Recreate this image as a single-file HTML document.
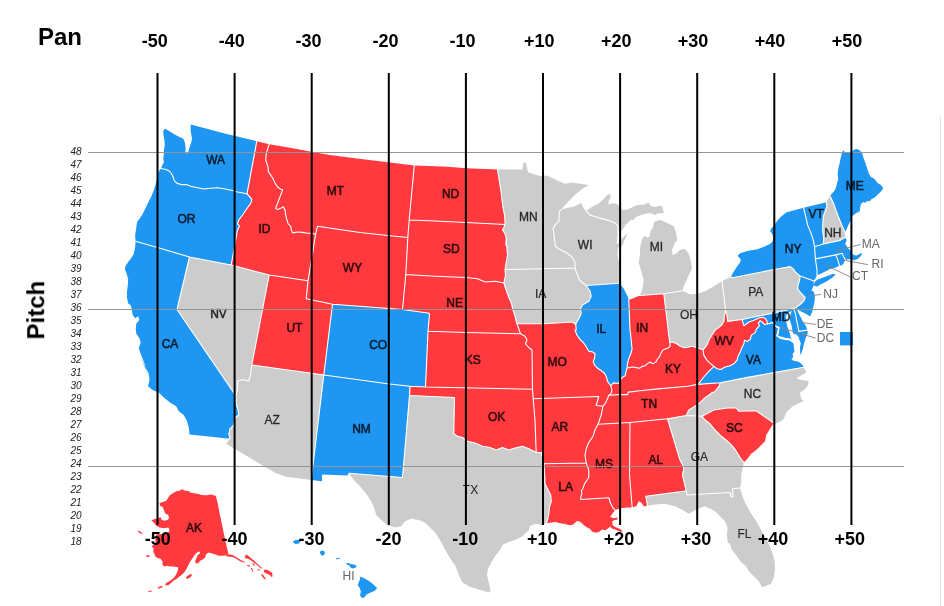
<!DOCTYPE html>
<html><head><meta charset="utf-8"><title>Pan / Pitch map</title>
<style>
html,body{margin:0;padding:0;background:#fff;}
body{width:944px;height:606px;position:relative;overflow:hidden;font-family:"Liberation Sans",sans-serif;}
svg{position:absolute;left:0;top:0;}
text{font-family:"Liberation Sans",sans-serif;}
.hd{font-weight:bold;font-size:24px;fill:#000;}
.tk{font-weight:bold;font-size:18px;fill:#000;text-anchor:middle;}
.pn{font-style:italic;font-size:10px;fill:#222;text-anchor:middle;}
.st{font-size:12px;fill:#000;stroke:#000;stroke-width:.55px;stroke-linejoin:round;opacity:.82;text-anchor:middle;}
.so{font-size:12px;fill:#666;text-anchor:middle;}
</style></head><body>
<svg width="944" height="606" viewBox="0 0 944 606" style="will-change:transform">
<defs><filter id="na" x="-5%" y="-5%" width="110%" height="110%"><feOffset dx="0" dy="0"/></filter></defs>
<rect width="944" height="606" fill="#fff"/>
<rect x="940" y="116" width="1" height="490" fill="#e2e2e2"/>
<g stroke="none">
<path fill="#1e96f2" d="M160.8,168.5 161.9,166.4 162.5,164.5 164.0,162.4 163.2,158.9 163.8,155.1 164.0,150.1 164.8,145.1 164.4,140.1 163.5,135.1 163.2,131.3 164.8,128.5 166.9,129.8 170.7,131.9 175.1,134.8 179.5,136.9 182.6,138.2 184.0,140.1 185.1,143.8 185.7,148.2 185.2,152.9 188.0,153.4 188.9,149.5 190.1,145.7 191.4,142.0 192.0,138.2 191.1,133.8 190.5,128.8 190.8,124.5 223.8,133.2 256.8,141.2 247.0,193.8 237.5,192.0 231.5,190.2 225.2,189.0 217.7,187.7 210.2,188.3 203.9,189.0 197.7,187.7 191.4,186.5 186.4,184.6 181.3,184.6 177.0,183.3 174.4,180.8 173.2,177.1 171.3,173.3 168.8,170.8 165.1,169.2Z"/>
<path fill="#1e96f2" d="M135.5,241.2 135.1,235.2 136.3,227.7 137.1,222.1 142.0,215.2 145.1,208.9 148.2,202.6 151.4,196.3 153.9,190.1 155.8,183.8 157.4,177.5 158.4,171.9 160.8,168.5 165.1,169.2 168.8,170.8 171.3,173.3 173.2,177.1 174.4,180.8 177.0,183.3 181.3,184.6 186.4,184.6 191.4,186.5 197.7,187.7 203.9,189.0 210.2,188.3 217.7,187.7 225.2,189.0 231.5,190.2 237.5,192.0 247.0,193.8 249.4,196.4 251.9,199.6 250.7,203.3 247.5,207.7 242.5,215.0 238.8,220.0 237.5,223.8 239.5,226.2 237.5,230.0 237.0,232.5 231.2,265.0 189.5,257.0 157.5,247.5Z"/>
<path fill="#1e96f2" d="M135.5,241.2 135.1,247.5 133.8,253.8 131.1,258.2 128.2,262.0 125.3,266.4 125.0,269.5 126.5,273.2 128.2,278.9 127.8,285.2 127.0,291.4 126.9,297.7 128.5,304.0 130.7,305.0 131.9,310.0 132.6,315.0 135.1,318.2 138.2,316.3 139.4,320.1 136.3,323.8 135.7,328.8 136.3,333.8 139.4,338.2 140.7,342.6 138.8,348.3 140.7,353.9 143.2,360.2 145.7,367.1 147.0,372.7 148.9,376.5 141.2,358.8 145.0,366.2 148.8,373.8 149.5,380.0 148.0,386.2 152.5,390.0 158.8,392.5 163.8,397.5 170.0,402.5 176.2,406.2 178.8,411.2 183.8,415.0 187.0,421.2 188.8,427.5 189.5,434.5 230.0,438.8 228.8,433.8 230.0,428.8 233.8,425.0 235.0,417.5 238.8,415.0 238.0,410.0 236.2,403.8 235.8,395.8 177.0,309.5 189.5,257.0 157.5,247.5Z"/>
<path fill="#cccccc" d="M189.5,257.0 231.2,265.0 269.2,275.0 251.8,365.0 250.5,375.0 248.8,381.2 242.5,379.5 237.5,381.2 237.5,390.0 235.8,395.8 177.0,309.5Z"/>
<path fill="#ff393e" d="M256.8,141.2 269.2,144.2 267.6,148.8 266.3,153.8 265.7,160.1 267.0,163.8 268.2,167.6 268.2,171.4 270.7,175.1 273.2,178.9 275.1,183.3 277.6,187.0 280.8,189.2 282.6,189.6 281.4,193.3 279.9,197.1 278.2,201.5 277.0,204.6 275.7,208.3 277.6,209.4 280.7,208.2 283.2,206.9 285.1,210.1 285.7,215.1 287.0,220.1 288.2,223.9 290.7,226.4 291.4,230.1 292.6,232.9 297.6,232.0 302.6,232.4 307.7,233.3 312.7,233.3 315.6,234.5 308.0,280.8 269.2,275.0 231.2,265.0 237.0,232.5 237.5,230.0 239.5,226.2 237.5,223.8 238.8,220.0 242.5,215.0 247.5,207.7 250.7,203.3 251.9,199.6 249.4,196.4 247.0,193.8Z"/>
<path fill="#ff393e" d="M269.2,144.2 290.0,147.8 310.0,151.4 330.0,155.1 355.0,158.2 388.0,162.3 414.3,165.4 409.2,220.0 407.8,237.5 387.5,235.5 360.0,232.5 317.5,226.2 315.6,234.5 312.7,233.3 307.7,233.3 302.6,232.4 297.6,232.0 292.6,232.9 291.4,230.1 290.7,226.4 288.2,223.9 287.0,220.1 285.7,215.1 285.1,210.1 283.2,206.9 280.7,208.2 277.6,209.4 275.7,208.3 277.0,204.6 278.2,201.5 279.9,197.1 281.4,193.3 282.6,189.6 280.8,189.2 277.6,187.0 275.1,183.3 273.2,178.9 270.7,175.1 268.2,171.4 268.2,167.6 267.0,163.8 265.7,160.1 266.3,153.8 267.6,148.8Z"/>
<path fill="#ff393e" d="M315.6,234.5 317.5,226.2 360.0,232.5 387.5,235.5 407.8,237.5 405.8,274.5 402.5,309.5 332.5,304.2 306.2,298.8 308.0,280.8Z"/>
<path fill="#ff393e" d="M269.2,275.0 308.0,280.8 306.2,298.8 332.5,304.2 323.8,375.0 251.8,365.0Z"/>
<path fill="#cccccc" d="M251.8,365.0 323.8,375.0 311.2,480.0 285.0,476.5 275.0,472.8 226.2,443.8 230.0,438.8 228.8,433.8 230.0,428.8 233.8,425.0 235.0,417.5 238.8,415.0 238.0,410.0 236.2,403.8 235.8,395.8 237.5,390.0 237.5,381.2 242.5,379.5 248.8,381.2 250.5,375.0Z"/>
<path fill="#1e96f2" d="M332.5,304.2 402.5,309.5 429.5,313.2 428.0,331.2 425.5,387.0 410.0,386.2 387.5,383.8 323.8,375.0Z"/>
<path fill="#1e96f2" d="M323.8,375.0 387.5,383.8 410.0,386.2 409.5,395.5 402.5,477.5 348.8,473.2 347.5,475.5 322.0,474.5 322.0,481.2 311.2,480.0Z"/>
<path fill="#ff393e" d="M182.1,489.0 183.9,490.6 188.9,491.3 191.5,493.1 196.5,493.5 201.5,495.0 206.5,495.3 211.5,494.4 215.9,496.0 217.8,503.8 219.7,513.8 221.6,522.6 223.4,531.4 225.3,540.2 227.2,549.0 228.4,553.8 224.1,555.7 219.0,555.7 215.3,554.5 211.5,553.2 208.4,552.6 205.9,554.5 205.2,557.6 202.7,559.5 200.2,560.7 198.3,563.2 195.8,563.6 195.2,560.7 196.5,558.2 197.7,555.1 200.2,553.2 199.6,551.6 197.1,552.3 194.6,555.1 192.1,558.8 189.6,562.6 187.7,566.4 186.4,568.9 184.6,572.0 182.1,574.5 178.9,577.0 176.4,578.9 173.3,580.8 170.8,583.3 168.3,585.2 165.1,585.2 165.8,583.3 168.9,581.4 172.0,579.5 174.5,577.0 176.4,573.9 177.7,570.8 178.3,567.6 176.4,567.0 173.3,566.4 170.1,566.6 167.0,565.7 163.9,566.4 162.4,564.5 162.6,561.4 160.7,558.8 158.2,558.2 155.7,557.0 154.5,554.5 153.2,551.3 153.8,548.8 152.0,546.9 152.6,545.0 154.5,545.2 155.7,541.4 155.1,537.7 156.3,534.5 161.4,534.1 166.4,533.3 168.9,532.0 169.5,529.5 168.3,527.6 163.9,528.3 159.5,527.6 156.3,525.8 155.1,523.9 153.2,522.0 151.3,520.4 154.5,518.9 158.2,518.2 160.7,517.0 161.4,519.5 163.9,520.7 167.6,520.1 169.1,517.9 168.3,515.1 165.1,513.2 163.9,510.1 162.6,506.9 160.1,505.7 159.5,503.2 162.6,501.9 166.4,500.7 168.3,497.5 170.1,495.0 173.3,493.1 176.4,491.3 180.2,490.6Z M227.6,554.1 232.4,554.9 234.3,556.0 237.3,557.8 240.2,559.7 243.2,561.2 245.4,561.9 244.7,562.6 241.7,561.9 238.8,560.4 235.8,558.6 233.6,557.5 231.7,556.7 229.1,556.7 225.4,556.0Z M246.2,554.5 248.0,555.6 251.4,558.6 254.3,560.8 257.3,563.8 260.3,566.4 262.5,568.6 261.0,568.6 258.1,566.0 255.1,563.4 252.1,561.2 249.2,559.3 246.9,558.6 245.1,558.2 244.7,556.3Z M263.6,569.7 267.0,569.7 269.9,571.2 272.2,572.7 272.5,576.4 271.4,577.1 269.9,574.9 267.0,573.8 264.0,572.3Z M246.9,564.9 249.9,565.2 249.9,566.4 247.3,566.1Z M252.1,563.0 254.0,563.4 255.1,565.6 253.6,565.4Z M250.6,567.8 252.1,568.2 253.6,571.9 252.5,571.5Z M257.3,569.3 260.3,569.5 259.9,570.6 257.5,570.3Z M261.0,573.8 263.3,574.9 266.2,579.4 264.4,579.0 262.1,576.4Z M185.8,577.6 187.7,575.8 190.8,573.9 192.1,575.1 190.2,577.6 187.1,578.9Z M157.0,587.9 159.5,586.4 162.6,585.8 162.4,587.2 158.9,588.4Z M147.6,591.7 150.1,590.7 152.0,590.4 151.6,591.4 148.6,592.3Z M145.7,555.7 148.2,555.3 150.1,556.1 148.8,557.0 146.3,556.7Z M137.5,530.8 139.4,531.1 142.6,533.6 141.6,534.1 138.8,532.4Z"/>
<path fill="#1e96f2" d=" M293.1,541.3 295.7,540.0 299.4,539.8 300.7,541.3 298.8,543.5 295.7,544.0 293.5,542.8Z M320.1,551.6 322.6,550.3 324.9,551.9 324.5,554.8 322.0,555.7 320.1,553.8Z M335.8,558.2 339.6,557.8 339.9,558.8 336.4,559.2Z M345.8,562.9 348.3,562.9 350.8,564.1 354.0,564.5 356.5,565.7 355.9,567.6 352.7,568.6 350.4,567.6 349.6,565.7 347.1,564.5Z M359.6,576.4 362.7,577.6 366.5,579.5 371.5,582.7 374.7,585.8 377.2,588.3 374.7,590.8 370.3,592.7 366.5,594.6 364.0,597.7 361.5,597.7 360.0,595.2 360.9,591.4 359.6,587.7 357.7,585.2 359.0,581.4 360.2,578.9Z"/>
<path fill="#ff393e" d="M414.3,165.4 448.0,166.7 466.0,168.2 497.5,169.5 498.8,177.5 500.0,185.0 501.2,192.5 502.0,200.0 503.0,207.5 504.5,215.0 505.0,221.2 505.0,224.5 466.2,222.5 435.0,221.0 409.2,220.0Z"/>
<path fill="#ff393e" d="M409.2,220.0 435.0,221.0 466.2,222.5 505.0,224.5 503.8,227.5 502.5,230.0 505.0,233.8 506.2,237.5 505.8,245.0 506.2,240.0 507.5,255.0 505.0,269.5 505.5,275.0 504.5,280.0 503.8,283.0 495.0,281.2 485.0,282.0 477.5,278.8 466.2,277.5 435.0,276.2 405.8,274.5 407.8,237.5Z"/>
<path fill="#ff393e" d="M405.8,274.5 435.0,276.2 466.2,277.5 477.5,278.8 485.0,282.0 495.0,281.2 503.8,283.0 506.2,290.0 508.8,297.5 511.2,302.5 513.0,310.0 515.0,316.2 516.2,321.2 517.0,323.8 518.8,328.8 520.5,333.8 466.2,332.5 428.0,331.2 429.5,313.2 402.5,309.5Z"/>
<path fill="#ff393e" d="M428.0,331.2 466.2,332.5 520.5,333.8 525.0,336.2 527.0,340.0 525.5,343.8 528.8,347.5 532.0,350.0 532.5,389.2 425.5,387.0Z"/>
<path fill="#ff393e" d="M410.0,386.2 425.5,387.0 532.5,389.2 533.2,398.8 535.0,420.0 536.2,452.5 533.8,451.2 528.8,448.8 522.5,446.2 515.0,448.0 508.8,450.0 502.5,447.5 496.2,450.0 490.0,447.5 482.5,446.2 475.0,443.0 467.5,441.2 462.5,437.5 457.5,436.2 453.8,433.8 454.5,397.5 409.5,395.5Z"/>
<path fill="#cccccc" d="M409.5,395.5 454.5,397.5 453.8,433.8 457.5,436.2 462.5,437.5 467.5,441.2 475.0,443.0 482.5,446.2 490.0,447.5 496.2,450.0 502.5,447.5 508.8,450.0 515.0,448.0 522.5,446.2 528.8,448.8 533.8,451.2 536.2,452.5 541.2,452.5 544.0,463.8 544.8,477.5 545.0,483.8 547.5,488.8 550.7,495.1 551.3,501.4 549.4,507.6 548.8,513.9 547.5,520.2 546.3,522.9 542.5,525.0 535.0,523.8 530.0,526.2 528.8,530.0 522.5,536.2 515.0,540.0 507.5,542.5 502.5,545.0 500.0,550.0 495.0,556.2 491.2,562.5 488.0,568.8 487.0,575.0 488.8,582.5 490.5,590.0 489.5,592.5 485.0,591.2 476.2,588.8 468.8,586.2 462.5,582.5 460.0,577.5 457.5,571.2 455.0,565.0 451.2,560.0 447.5,553.8 443.8,547.5 440.0,540.0 435.0,532.5 430.0,527.5 425.0,522.5 418.8,520.0 411.2,518.8 405.0,521.2 401.2,526.2 395.0,527.5 387.5,525.0 381.2,520.0 376.2,515.0 374.5,508.8 371.2,501.2 366.2,493.8 360.0,486.2 353.8,480.0 348.8,473.2 402.5,477.5Z"/>
<path fill="#cccccc" d="M497.5,169.5 522.5,169.5 523.2,163.0 526.0,162.5 527.5,170.5 528.5,172.5 535.0,174.5 541.2,176.2 547.5,175.5 551.2,177.5 558.8,181.2 565.0,183.8 572.5,182.5 580.0,183.8 588.8,185.0 582.5,188.8 576.2,193.8 571.2,198.8 566.2,203.8 561.2,209.5 559.5,211.2 559.0,217.5 558.8,221.2 555.0,225.0 553.0,228.8 553.8,232.5 554.5,240.0 555.5,246.2 558.8,248.8 566.2,252.5 572.5,257.5 575.0,262.5 575.0,268.0 505.0,269.5 507.5,255.0 506.2,240.0 505.8,245.0 506.2,237.5 505.0,233.8 502.5,230.0 503.8,227.5 505.0,224.5 505.0,221.2 504.5,215.0 503.0,207.5 502.0,200.0 501.2,192.5 500.0,185.0 498.8,177.5Z"/>
<path fill="#cccccc" d="M505.0,269.5 575.0,268.0 577.0,273.8 579.5,280.0 583.8,283.8 586.2,285.5 590.0,291.2 591.2,296.2 588.8,301.2 582.5,305.0 580.5,308.8 581.2,313.8 578.8,318.8 576.2,323.0 575.8,324.5 572.5,322.0 543.8,323.8 517.0,323.8 516.2,321.2 515.0,316.2 513.0,310.0 511.2,302.5 508.8,297.5 506.2,290.0 503.8,283.0 504.5,280.0 505.5,275.0Z"/>
<path fill="#ff393e" d="M517.0,323.8 543.8,323.8 572.5,322.0 575.8,324.5 576.2,330.0 575.0,330.0 576.9,335.0 580.0,339.4 583.8,343.2 586.3,346.9 588.8,351.3 592.6,351.9 595.1,353.8 594.5,358.2 593.2,361.4 594.5,365.1 597.6,368.2 601.4,370.8 604.5,373.3 606.4,377.0 607.6,381.4 610.8,385.8 612.0,390.2 610.8,393.9 608.9,395.2 607.5,398.8 605.0,403.8 603.0,406.2 596.2,405.5 598.8,396.5 533.2,398.8 532.5,389.2 532.0,350.0 528.8,347.5 525.5,343.8 527.0,340.0 525.0,336.2 520.5,333.8 518.8,328.8Z"/>
<path fill="#ff393e" d="M533.2,398.8 598.8,396.5 596.2,405.5 603.0,406.2 601.2,415.0 599.5,420.0 598.0,424.2 595.0,430.0 593.0,436.2 588.8,442.5 586.2,448.8 585.0,455.0 586.2,463.0 544.0,463.8 541.2,452.5 536.2,452.5 535.0,420.0Z"/>
<path fill="#ff393e" d="M544.0,463.8 586.2,463.0 588.8,470.0 588.8,477.5 584.5,483.8 583.3,487.6 581.4,490.7 582.0,493.8 580.8,497.0 580.8,499.5 609.0,497.8 610.2,502.6 612.7,507.6 615.2,510.1 612.1,513.9 610.2,517.0 614.0,518.3 617.1,517.6 617.7,519.5 614.0,520.2 612.1,521.4 612.7,525.2 615.2,527.0 620.2,528.9 622.8,531.4 620.2,531.7 615.2,529.6 611.5,528.3 610.2,526.4 608.3,528.3 605.2,530.2 602.1,529.6 598.9,532.1 595.2,532.7 592.0,531.4 590.2,528.9 587.6,527.7 583.9,525.2 582.0,523.3 578.2,520.8 575.7,522.0 573.2,524.5 569.5,525.2 565.1,523.9 560.1,523.3 555.0,522.0 550.0,522.7 546.3,522.9 547.5,520.2 548.8,513.9 549.4,507.6 551.3,501.4 550.7,495.1 547.5,488.8 545.0,483.8 544.8,477.5Z"/>
<path fill="#cccccc" d="M561.2,209.5 567.5,208.0 575.0,206.2 581.2,203.0 583.8,208.8 586.2,211.2 590.1,215.1 596.3,217.0 602.6,218.9 608.9,220.4 613.9,222.4 617.0,224.5 618.3,227.7 617.5,229.5 617.6,233.9 617.0,238.9 616.6,243.3 618.3,244.0 620.2,240.2 623.9,236.4 627.0,233.3 626.4,236.4 624.5,240.2 622.7,245.2 618.0,247.5 617.5,255.0 619.5,265.0 618.8,275.0 619.5,283.2 586.2,285.5 583.8,283.8 579.5,280.0 577.0,273.8 575.0,268.0 575.0,262.5 572.5,257.5 566.2,252.5 558.8,248.8 555.5,246.2 554.5,240.0 553.8,232.5 553.0,228.8 555.0,225.0 558.8,221.2 559.0,217.5 559.5,211.2Z"/>
<path fill="#1e96f2" d="M586.2,285.5 619.5,283.2 623.8,288.8 627.5,296.2 628.8,300.0 630.0,330.0 630.8,336.3 631.4,342.5 632.1,348.8 630.8,353.8 628.9,358.2 627.7,362.6 627.0,368.2 625.8,372.6 625.2,375.8 622.0,377.6 618.3,383.5 613.3,382.9 610.8,385.8 607.6,381.4 606.4,377.0 604.5,373.3 601.4,370.8 597.6,368.2 594.5,365.1 593.2,361.4 594.5,358.2 595.1,353.8 592.6,351.9 588.8,351.3 586.3,346.9 583.8,343.2 580.0,339.4 576.9,335.0 575.0,330.0 576.2,330.0 575.8,324.5 576.2,323.0 578.8,318.8 581.2,313.8 580.5,308.8 582.5,305.0 588.8,301.2 591.2,296.2 590.0,291.2Z"/>
<path fill="#ff393e" d="M598.0,424.2 630.0,422.5 629.5,475.0 632.2,507.4 627.8,507.6 620.2,508.2 615.2,510.1 612.7,507.6 610.2,502.6 609.0,497.8 580.8,499.5 580.8,497.0 582.0,493.8 581.4,490.7 583.3,487.6 584.5,483.8 588.8,477.5 588.8,470.0 586.2,463.0 585.0,455.0 586.2,448.8 588.8,442.5 593.0,436.2 595.0,430.0Z"/>
<path fill="#ff393e" d="M630.0,422.5 667.5,418.8 680.0,460.0 683.8,467.5 682.5,475.0 686.2,490.8 683.8,491.2 645.8,496.2 647.5,505.8 643.8,506.2 641.2,502.5 638.8,501.2 636.2,506.2 632.2,507.4 629.5,475.0Z"/>
<path fill="#ff393e" d="M610.8,385.8 613.3,382.9 618.3,383.5 622.0,377.6 625.2,375.8 625.8,372.6 627.0,368.2 628.9,367.6 632.7,367.0 636.5,367.6 639.6,368.2 642.1,366.4 645.2,365.7 647.1,363.9 650.2,362.0 652.8,363.9 655.9,362.0 657.1,359.5 659.7,356.3 660.9,353.2 662.8,350.1 665.9,348.8 669.1,347.6 670.3,345.1 669.7,342.5 672.8,341.9 676.6,343.8 680.3,346.3 684.1,347.6 686.2,347.5 692.5,346.2 697.5,348.0 703.1,349.7 703.8,355.1 706.9,360.1 710.7,363.8 714.0,366.4 708.8,371.4 703.8,377.0 700.0,382.0 697.3,384.4 688.0,386.2 657.8,388.9 640.2,390.8 628.3,392.1 627.7,394.6 618.9,394.6 608.9,395.2 610.8,393.9 612.0,390.2Z"/>
<path fill="#ff393e" d="M628.8,300.0 640.0,295.5 663.8,293.8 669.7,342.5 670.3,345.1 669.1,347.6 665.9,348.8 662.8,350.1 660.9,353.2 659.7,356.3 657.1,359.5 655.9,362.0 652.8,363.9 650.2,362.0 647.1,363.9 645.2,365.7 642.1,366.4 639.6,368.2 636.5,367.6 632.7,367.0 628.9,367.6 627.0,368.2 627.7,362.6 628.9,358.2 630.8,353.8 632.1,348.8 631.4,342.5 630.8,336.3 630.0,330.0Z"/>
<path fill="#cccccc" d="M586.2,211.2 588.8,208.9 593.2,206.3 598.2,203.8 602.6,200.1 606.4,195.7 610.1,193.6 610.8,196.9 608.9,200.7 608.2,204.5 611.4,203.2 615.8,203.6 619.5,206.3 622.7,209.9 627.7,209.5 632.7,207.0 637.7,205.1 644.0,204.5 649.0,202.6 650.2,205.7 655.3,207.0 659.0,205.7 662.2,206.3 663.4,210.7 664.0,212.6 661.5,213.2 657.8,213.2 655.3,215.1 652.8,213.9 650.2,213.2 646.5,213.6 642.7,214.5 639.0,215.8 635.2,217.6 634.0,220.1 631.4,219.5 628.9,222.0 625.8,224.5 623.9,227.7 622.0,230.2 617.5,229.5 618.3,227.7 617.0,224.5 613.9,222.4 608.9,220.4 602.6,218.9 596.3,217.0 590.1,215.1Z M640.0,295.5 663.8,293.8 682.5,290.8 683.8,286.2 686.2,281.2 688.8,275.0 692.0,268.8 691.2,262.5 688.8,253.8 685.0,248.8 680.0,250.0 676.2,253.8 672.5,255.0 672.0,250.0 675.0,242.5 677.2,240.2 676.6,235.2 675.3,230.2 674.1,226.4 670.3,224.5 665.3,222.0 660.3,219.9 657.8,220.4 654.0,222.0 653.4,225.2 652.8,228.3 650.9,230.2 650.2,233.3 649.6,236.4 646.5,237.7 645.2,235.8 642.7,237.7 641.5,241.5 640.2,246.5 640.0,253.8 638.8,262.5 641.2,271.2 643.8,280.0 642.5,288.8Z"/>
<path fill="#cccccc" d="M663.8,293.8 682.5,290.8 690.0,294.5 697.5,293.8 705.0,291.2 713.8,286.2 722.0,281.2 725.7,310.7 724.5,315.1 723.9,321.4 722.0,324.5 718.8,327.6 715.1,330.1 713.2,333.3 710.7,337.0 708.8,340.2 707.5,343.9 705.0,347.7 703.1,349.7 697.5,348.0 692.5,346.2 686.2,347.5 684.1,347.6 680.3,346.3 676.6,343.8 672.8,341.9 669.7,342.5Z"/>
<path fill="#ff393e" d="M725.7,310.7 727.0,315.1 727.6,321.4 742.0,319.5 743.9,325.7 748.9,322.0 754.0,320.3 758.3,318.2 762.1,317.3 765.2,318.2 767.1,321.4 767.5,323.9 764.6,324.5 762.1,322.0 760.2,320.7 758.3,323.2 759.6,325.7 756.5,328.9 755.2,332.6 751.4,335.1 750.2,339.5 747.7,341.4 744.5,340.2 743.9,343.8 742.0,347.5 740.2,351.9 738.3,355.7 737.0,360.1 734.5,363.2 730.1,365.7 725.1,367.0 720.7,369.5 717.0,368.8 714.0,366.4 710.7,363.8 706.9,360.1 703.8,355.1 703.1,349.7 705.0,347.7 707.5,343.9 708.8,340.2 710.7,337.0 713.2,333.3 715.1,330.1 718.8,327.6 722.0,324.5 723.9,321.4 724.5,315.1Z"/>
<path fill="#1e96f2" d="M714.0,366.4 717.0,368.8 720.7,369.5 725.1,367.0 730.1,365.7 734.5,363.2 737.0,360.1 738.3,355.7 740.2,351.9 742.0,347.5 743.9,343.8 744.5,340.2 747.7,341.4 750.2,339.5 751.4,335.1 755.2,332.6 756.5,328.9 759.6,325.7 758.3,323.2 760.2,320.7 762.1,322.0 764.6,324.5 767.5,323.9 772.6,322.6 775.7,326.3 778.8,327.6 778.2,332.0 777.0,335.7 780.1,337.6 785.1,338.9 790.1,339.5 793.3,342.0 793.9,347.6 794.5,351.4 792.6,353.9 793.3,357.1 791.4,358.9 793.3,360.8 797.6,361.4 800.2,362.7 802.7,365.2 803.7,367.2 774.0,372.6 746.4,377.6 720.1,382.7 697.3,384.4 700.0,382.0 703.8,377.0 708.8,371.4Z M799.5,340.1 805.2,340.1 803.9,343.9 803.3,347.6 802.0,351.4 800.8,355.2 800.2,352.7 799.9,347.6 800.8,343.3Z"/>
<path fill="#cccccc" d="M720.1,382.7 746.4,377.6 774.0,372.6 803.7,367.2 806.2,372.5 800.0,376.2 796.2,378.8 802.5,380.0 808.8,381.2 807.5,386.2 803.8,390.0 800.0,392.5 801.2,398.8 803.8,401.2 797.5,403.8 791.2,407.5 786.2,412.5 783.8,418.8 781.2,421.2 775.0,423.8 773.8,423.0 756.2,410.8 738.8,411.2 736.2,408.0 727.5,408.0 713.8,410.0 702.0,416.2 686.2,415.5 688.8,410.0 692.5,407.7 696.3,405.2 700.0,402.7 702.5,400.2 705.7,397.1 708.8,395.2 711.9,392.7 715.1,391.4 717.0,388.9 719.5,385.8Z"/>
<path fill="#ff393e" d="M608.9,395.2 618.9,394.6 627.7,394.6 628.3,392.1 640.2,390.8 657.8,388.9 688.0,386.2 697.3,384.4 720.1,382.7 719.5,385.8 717.0,388.9 715.1,391.4 711.9,392.7 708.8,395.2 705.7,397.1 702.5,400.2 700.0,402.7 696.3,405.2 692.5,407.7 688.8,410.0 686.2,415.5 667.5,418.8 630.0,422.5 598.0,424.2 599.5,420.0 601.2,415.0 603.0,406.2 605.0,403.8 607.5,398.8Z"/>
<path fill="#ff393e" d="M702.0,416.2 713.8,410.0 727.5,408.0 736.2,408.0 738.8,411.2 756.2,410.8 773.8,423.0 770.0,428.8 766.2,435.0 765.0,441.2 760.0,446.2 756.2,450.0 751.2,453.8 747.5,458.8 743.8,462.5 740.0,457.5 736.2,451.2 732.5,446.2 727.5,441.2 721.2,436.2 715.0,430.0 710.0,423.8 705.0,420.0Z"/>
<path fill="#cccccc" d="M667.5,418.8 686.2,415.5 702.0,416.2 705.0,420.0 710.0,423.8 715.0,430.0 721.2,436.2 727.5,441.2 732.5,446.2 736.2,451.2 740.0,457.5 743.8,462.5 742.5,468.8 741.2,475.0 741.2,482.5 740.0,488.0 732.5,488.8 733.0,496.2 731.2,497.0 730.0,492.5 687.0,495.0 686.2,490.8 682.5,475.0 683.8,467.5 680.0,460.0Z"/>
<path fill="#cccccc" d="M647.5,505.8 645.8,496.2 683.8,491.2 686.2,490.8 687.0,495.0 730.0,492.5 731.2,497.0 733.0,496.2 732.5,488.8 740.0,488.0 742.5,496.2 746.2,505.0 751.2,513.8 757.0,522.5 762.5,532.5 767.5,541.2 771.2,550.0 774.5,560.0 775.0,568.8 773.8,577.5 771.2,583.8 765.0,586.2 762.0,587.0 758.8,581.2 752.5,575.0 748.8,571.2 746.2,566.2 741.2,562.5 738.8,558.8 735.0,553.8 731.2,548.8 730.0,543.8 727.5,542.5 727.0,535.0 727.5,527.5 725.0,521.2 720.0,516.2 715.0,511.2 705.0,506.2 697.5,508.8 688.8,513.8 682.5,510.0 675.0,506.2 665.0,503.8 655.0,504.5Z"/>
<path fill="#cccccc" d="M722.0,281.2 726.3,278.9 730.7,276.7 732.6,277.7 774.0,269.5 790.3,266.6 793.4,268.9 795.3,272.0 799.1,275.2 800.2,276.1 799.5,280.8 798.2,284.6 797.6,288.3 799.5,291.5 802.6,294.6 805.1,297.7 803.9,300.9 800.7,304.0 796.3,307.2 793.3,308.8 770.2,313.6 742.0,319.5 727.6,321.4 727.0,315.1 725.7,310.7Z"/>
<path fill="#1e96f2" d="M730.7,276.7 733.2,272.6 736.4,267.6 740.1,262.6 740.8,259.5 737.6,255.7 740.1,253.2 746.4,251.3 752.7,250.1 756.4,249.4 760.2,248.2 765.2,246.3 770.2,243.8 772.7,241.3 773.4,237.5 772.1,233.8 770.2,231.3 771.5,228.1 774.0,226.2 775.0,223.8 780.0,217.5 786.2,212.5 795.0,210.0 803.6,207.8 805.7,216.3 807.6,225.1 810.8,232.6 813.3,240.1 814.5,246.7 815.4,258.9 817.0,270.2 817.0,275.2 815.1,278.9 813.3,280.8 800.2,276.1 799.1,275.2 795.3,272.0 793.4,268.9 790.3,266.6 774.0,269.5 732.6,277.7Z M813.9,285.8 814.5,282.1 817.6,279.6 822.7,277.7 827.7,275.8 832.7,273.9 835.2,273.9 834.6,275.8 831.4,278.3 826.4,281.4 821.4,283.9 817.0,286.4Z"/>
<path fill="#1e96f2" d="M800.2,276.1 813.3,280.8 813.9,284.6 812.6,288.3 811.4,290.2 813.9,292.1 814.9,297.1 814.5,302.1 813.3,307.1 812.0,312.2 810.1,316.6 807.6,314.7 803.9,312.8 800.1,310.9 797.0,309.0 796.3,307.2 800.7,304.0 803.9,300.9 805.1,297.7 802.6,294.6 799.5,291.5 797.6,288.3 798.2,284.6 799.5,280.8Z"/>
<path fill="#1e96f2" d="M793.3,308.8 796.3,307.2 797.6,311.3 800.2,316.3 802.7,321.3 805.8,325.7 807.4,330.1 798.9,331.4 795.1,312.5Z"/>
<path fill="#1e96f2" d="M742.0,319.5 770.2,313.6 793.3,308.8 795.1,312.5 798.9,331.4 807.4,330.1 807.7,333.2 805.8,337.6 805.2,340.1 799.5,340.1 798.3,336.4 795.8,333.9 793.9,334.5 792.6,331.4 792.0,328.2 791.4,325.1 790.1,321.3 789.5,317.6 790.8,313.8 792.0,310.7 787.6,313.2 785.7,316.3 786.4,322.6 787.6,327.6 789.5,332.6 790.8,337.6 793.3,342.0 790.1,339.5 785.1,338.9 780.1,337.6 777.0,335.7 778.2,332.0 778.8,327.6 775.7,326.3 772.6,322.6 767.5,323.9 767.1,321.4 765.2,318.2 762.1,317.3 758.3,318.2 754.0,320.3 748.9,322.0 743.9,325.7Z"/>
<path fill="#1e96f2" d="M803.6,207.8 826.4,202.3 827.0,206.3 825.2,211.3 823.3,216.3 822.9,222.6 822.7,231.3 823.7,237.6 823.3,243.9 814.5,246.7 813.3,240.1 810.8,232.6 807.6,225.1 805.7,216.3Z"/>
<path fill="#cccccc" d="M826.4,202.3 829.9,195.8 833.3,202.7 836.4,211.5 840.2,221.3 844.0,230.1 845.0,232.0 845.2,237.6 843.4,238.2 840.2,240.4 823.3,243.9 823.7,237.6 822.7,231.3 822.9,222.6 823.3,216.3 825.2,211.3 827.0,206.3Z"/>
<path fill="#1e96f2" d="M829.9,195.8 833.9,191.4 835.8,188.3 837.0,183.3 838.3,178.9 837.6,173.9 838.3,168.8 839.5,163.8 840.8,157.6 842.0,152.5 843.3,150.3 845.2,152.5 848.3,152.5 851.4,151.9 854.6,149.4 857.1,149.0 860.2,150.7 862.1,153.2 863.4,157.6 865.2,162.6 867.1,168.2 869.0,173.9 870.9,177.0 873.4,178.2 875.3,180.1 877.8,183.3 880.9,185.1 883.0,187.7 882.2,190.2 880.3,192.0 877.8,194.6 875.9,196.4 873.4,198.3 871.5,198.9 869.6,201.4 867.7,200.8 865.2,202.7 863.4,202.1 860.9,203.9 860.2,207.7 859.6,211.5 857.7,214.0 859.0,211.3 855.3,213.8 852.1,216.3 850.9,220.1 848.4,225.1 846.5,229.5 845.0,232.0 844.0,230.1 840.2,221.3 836.4,211.5 833.3,202.7Z"/>
<path fill="#1e96f2" d="M814.5,246.7 823.3,243.9 840.2,240.4 843.4,238.2 845.2,237.6 846.7,240.1 845.2,243.9 847.7,247.7 850.2,250.2 851.8,253.3 853.8,254.9 856.8,255.4 859.8,253.7 862.0,252.9 861.5,255.2 858.0,258.9 854.0,260.2 850.2,258.9 847.7,259.6 845.2,259.6 843.4,256.4 842.1,253.3 835.8,254.9 815.4,258.9Z"/>
<path fill="#1e96f2" d="M835.8,254.9 842.1,253.3 843.4,256.4 845.2,259.6 844.0,262.7 842.1,265.2 839.6,265.8 837.7,259.6Z"/>
<path fill="#1e96f2" d="M815.4,258.9 835.8,254.9 837.7,259.6 839.6,265.8 835.2,267.7 830.2,269.0 825.2,271.5 820.2,274.0 817.0,275.2 817.0,270.2Z"/>
</g>
<path d="M256.8,141.2 247.0,193.8 M160.8,168.5 165.1,169.2 168.8,170.8 171.3,173.3 173.2,177.1 174.4,180.8 177.0,183.3 181.3,184.6 186.4,184.6 191.4,186.5 197.7,187.7 203.9,189.0 210.2,188.3 217.7,187.7 225.2,189.0 231.5,190.2 237.5,192.0 247.0,193.8 M247.0,193.8 249.4,196.4 251.9,199.6 250.7,203.3 247.5,207.7 242.5,215.0 238.8,220.0 237.5,223.8 239.5,226.2 237.5,230.0 237.0,232.5 231.2,265.0 M189.5,257.0 231.2,265.0 M135.5,241.2 157.5,247.5 189.5,257.0 M235.8,395.8 236.2,403.8 238.0,410.0 238.8,415.0 235.0,417.5 233.8,425.0 230.0,428.8 228.8,433.8 230.0,438.8 M189.5,257.0 177.0,309.5 235.8,395.8 M231.2,265.0 269.2,275.0 M269.2,275.0 251.8,365.0 M251.8,365.0 250.5,375.0 248.8,381.2 242.5,379.5 237.5,381.2 237.5,390.0 235.8,395.8 M269.2,144.2 267.6,148.8 266.3,153.8 265.7,160.1 267.0,163.8 268.2,167.6 268.2,171.4 270.7,175.1 273.2,178.9 275.1,183.3 277.6,187.0 280.8,189.2 282.6,189.6 281.4,193.3 279.9,197.1 278.2,201.5 277.0,204.6 275.7,208.3 277.6,209.4 280.7,208.2 283.2,206.9 285.1,210.1 285.7,215.1 287.0,220.1 288.2,223.9 290.7,226.4 291.4,230.1 292.6,232.9 297.6,232.0 302.6,232.4 307.7,233.3 312.7,233.3 315.6,234.5 M315.6,234.5 308.0,280.8 M269.2,275.0 308.0,280.8 M414.3,165.4 409.2,220.0 M409.2,220.0 407.8,237.5 M315.6,234.5 317.5,226.2 360.0,232.5 387.5,235.5 407.8,237.5 M407.8,237.5 405.8,274.5 M405.8,274.5 402.5,309.5 M332.5,304.2 402.5,309.5 M308.0,280.8 306.2,298.8 332.5,304.2 M332.5,304.2 323.8,375.0 M251.8,365.0 323.8,375.0 M323.8,375.0 311.2,480.0 M402.5,309.5 429.5,313.2 428.0,331.2 M428.0,331.2 425.5,387.0 M410.0,386.2 425.5,387.0 M323.8,375.0 387.5,383.8 410.0,386.2 M410.0,386.2 409.5,395.5 M409.5,395.5 402.5,477.5 348.8,473.2 M497.5,169.5 498.8,177.5 500.0,185.0 501.2,192.5 502.0,200.0 503.0,207.5 504.5,215.0 505.0,221.2 505.0,224.5 M409.2,220.0 435.0,221.0 466.2,222.5 505.0,224.5 M505.0,224.5 503.8,227.5 502.5,230.0 505.0,233.8 506.2,237.5 505.8,245.0 506.2,240.0 507.5,255.0 505.0,269.5 M505.0,269.5 505.5,275.0 504.5,280.0 503.8,283.0 M405.8,274.5 435.0,276.2 466.2,277.5 477.5,278.8 485.0,282.0 495.0,281.2 503.8,283.0 M503.8,283.0 506.2,290.0 508.8,297.5 511.2,302.5 513.0,310.0 515.0,316.2 516.2,321.2 517.0,323.8 M517.0,323.8 518.8,328.8 520.5,333.8 M428.0,331.2 466.2,332.5 520.5,333.8 M520.5,333.8 525.0,336.2 527.0,340.0 525.5,343.8 528.8,347.5 532.0,350.0 532.5,389.2 M425.5,387.0 532.5,389.2 M532.5,389.2 533.2,398.8 M533.2,398.8 535.0,420.0 536.2,452.5 M409.5,395.5 454.5,397.5 453.8,433.8 457.5,436.2 462.5,437.5 467.5,441.2 475.0,443.0 482.5,446.2 490.0,447.5 496.2,450.0 502.5,447.5 508.8,450.0 515.0,448.0 522.5,446.2 528.8,448.8 533.8,451.2 536.2,452.5 M536.2,452.5 541.2,452.5 544.0,463.8 M544.0,463.8 544.8,477.5 545.0,483.8 547.5,488.8 550.7,495.1 551.3,501.4 549.4,507.6 548.8,513.9 547.5,520.2 546.3,522.9 M561.2,209.5 559.5,211.2 559.0,217.5 558.8,221.2 555.0,225.0 553.0,228.8 553.8,232.5 554.5,240.0 555.5,246.2 558.8,248.8 566.2,252.5 572.5,257.5 575.0,262.5 575.0,268.0 M505.0,269.5 575.0,268.0 M575.0,268.0 577.0,273.8 579.5,280.0 583.8,283.8 586.2,285.5 M586.2,285.5 590.0,291.2 591.2,296.2 588.8,301.2 582.5,305.0 580.5,308.8 581.2,313.8 578.8,318.8 576.2,323.0 575.8,324.5 M517.0,323.8 543.8,323.8 572.5,322.0 575.8,324.5 M575.8,324.5 576.2,330.0 575.0,330.0 576.9,335.0 580.0,339.4 583.8,343.2 586.3,346.9 588.8,351.3 592.6,351.9 595.1,353.8 594.5,358.2 593.2,361.4 594.5,365.1 597.6,368.2 601.4,370.8 604.5,373.3 606.4,377.0 607.6,381.4 610.8,385.8 M610.8,385.8 612.0,390.2 610.8,393.9 608.9,395.2 M608.9,395.2 607.5,398.8 605.0,403.8 603.0,406.2 M533.2,398.8 598.8,396.5 596.2,405.5 603.0,406.2 M603.0,406.2 601.2,415.0 599.5,420.0 598.0,424.2 M598.0,424.2 595.0,430.0 593.0,436.2 588.8,442.5 586.2,448.8 585.0,455.0 586.2,463.0 M544.0,463.8 586.2,463.0 M586.2,463.0 588.8,470.0 588.8,477.5 584.5,483.8 583.3,487.6 581.4,490.7 582.0,493.8 580.8,497.0 580.8,499.5 609.0,497.8 610.2,502.6 612.7,507.6 615.2,510.1 M586.2,211.2 590.1,215.1 596.3,217.0 602.6,218.9 608.9,220.4 613.9,222.4 617.0,224.5 618.3,227.7 617.5,229.5 M586.2,285.5 619.5,283.2 M628.8,300.0 630.0,330.0 630.8,336.3 631.4,342.5 632.1,348.8 630.8,353.8 628.9,358.2 627.7,362.6 627.0,368.2 M610.8,385.8 613.3,382.9 618.3,383.5 622.0,377.6 625.2,375.8 625.8,372.6 627.0,368.2 M598.0,424.2 630.0,422.5 M630.0,422.5 629.5,475.0 632.2,507.4 M630.0,422.5 667.5,418.8 M667.5,418.8 680.0,460.0 683.8,467.5 682.5,475.0 686.2,490.8 M647.5,505.8 645.8,496.2 683.8,491.2 686.2,490.8 M627.0,368.2 628.9,367.6 632.7,367.0 636.5,367.6 639.6,368.2 642.1,366.4 645.2,365.7 647.1,363.9 650.2,362.0 652.8,363.9 655.9,362.0 657.1,359.5 659.7,356.3 660.9,353.2 662.8,350.1 665.9,348.8 669.1,347.6 670.3,345.1 669.7,342.5 M669.7,342.5 672.8,341.9 676.6,343.8 680.3,346.3 684.1,347.6 686.2,347.5 692.5,346.2 697.5,348.0 703.1,349.7 M714.0,366.4 710.7,363.8 706.9,360.1 703.8,355.1 703.1,349.7 M697.3,384.4 700.0,382.0 703.8,377.0 708.8,371.4 714.0,366.4 M608.9,395.2 618.9,394.6 627.7,394.6 628.3,392.1 640.2,390.8 657.8,388.9 688.0,386.2 697.3,384.4 M640.0,295.5 663.8,293.8 M663.8,293.8 669.7,342.5 M663.8,293.8 682.5,290.8 M722.0,281.2 725.7,310.7 M725.7,310.7 724.5,315.1 723.9,321.4 722.0,324.5 718.8,327.6 715.1,330.1 713.2,333.3 710.7,337.0 708.8,340.2 707.5,343.9 705.0,347.7 703.1,349.7 M725.7,310.7 727.0,315.1 727.6,321.4 742.0,319.5 M742.0,319.5 743.9,325.7 748.9,322.0 754.0,320.3 758.3,318.2 762.1,317.3 765.2,318.2 767.1,321.4 767.5,323.9 M714.0,366.4 717.0,368.8 720.7,369.5 725.1,367.0 730.1,365.7 734.5,363.2 737.0,360.1 738.3,355.7 740.2,351.9 742.0,347.5 743.9,343.8 744.5,340.2 747.7,341.4 750.2,339.5 751.4,335.1 755.2,332.6 756.5,328.9 759.6,325.7 758.3,323.2 760.2,320.7 762.1,322.0 764.6,324.5 767.5,323.9 M767.5,323.9 772.6,322.6 775.7,326.3 778.8,327.6 778.2,332.0 777.0,335.7 780.1,337.6 785.1,338.9 790.1,339.5 793.3,342.0 M720.1,382.7 746.4,377.6 774.0,372.6 803.7,367.2 M697.3,384.4 720.1,382.7 M702.0,416.2 713.8,410.0 727.5,408.0 736.2,408.0 738.8,411.2 756.2,410.8 773.8,423.0 M686.2,415.5 702.0,416.2 M686.2,415.5 688.8,410.0 692.5,407.7 696.3,405.2 700.0,402.7 702.5,400.2 705.7,397.1 708.8,395.2 711.9,392.7 715.1,391.4 717.0,388.9 719.5,385.8 720.1,382.7 M667.5,418.8 686.2,415.5 M702.0,416.2 705.0,420.0 710.0,423.8 715.0,430.0 721.2,436.2 727.5,441.2 732.5,446.2 736.2,451.2 740.0,457.5 743.8,462.5 M686.2,490.8 687.0,495.0 730.0,492.5 731.2,497.0 733.0,496.2 732.5,488.8 740.0,488.0 M730.7,276.7 732.6,277.7 774.0,269.5 790.3,266.6 793.4,268.9 795.3,272.0 799.1,275.2 800.2,276.1 M796.3,307.2 800.7,304.0 803.9,300.9 805.1,297.7 802.6,294.6 799.5,291.5 797.6,288.3 798.2,284.6 799.5,280.8 800.2,276.1 M793.3,308.8 796.3,307.2 M742.0,319.5 770.2,313.6 793.3,308.8 M803.6,207.8 805.7,216.3 807.6,225.1 810.8,232.6 813.3,240.1 814.5,246.7 M814.5,246.7 815.4,258.9 M815.4,258.9 817.0,270.2 817.0,275.2 M800.2,276.1 813.3,280.8 M793.3,308.8 795.1,312.5 798.9,331.4 807.4,330.1 M826.4,202.3 827.0,206.3 825.2,211.3 823.3,216.3 822.9,222.6 822.7,231.3 823.7,237.6 823.3,243.9 M814.5,246.7 823.3,243.9 M829.9,195.8 833.3,202.7 836.4,211.5 840.2,221.3 844.0,230.1 845.0,232.0 M823.3,243.9 840.2,240.4 843.4,238.2 845.2,237.6 M835.8,254.9 842.1,253.3 843.4,256.4 845.2,259.6 M815.4,258.9 835.8,254.9 M835.8,254.9 837.7,259.6 839.6,265.8" fill="none" stroke="#fff" stroke-width="1.1" stroke-linejoin="round" stroke-linecap="round"/>
<polyline fill="none" stroke="#fff" stroke-width="1.5" stroke-linecap="round" stroke-linejoin="round" points="775.7,326.3 778.8,327.6 778.2,332.0 777.0,335.7 780.1,337.6"/>
<polyline fill="none" stroke="#fff" stroke-width="2.2" stroke-linecap="round" stroke-linejoin="round" points="780.1,337.6 785.1,338.9 790.1,339.5 793.3,342.0"/>
<rect x="840" y="332" width="13" height="13.4" fill="#1e96f2"/>
<line x1="860.3" y1="244.5" x2="835.8" y2="250.8" stroke="#8a8078" stroke-width="0.9"/>
<line x1="867.8" y1="264.6" x2="842.5" y2="259.9" stroke="#8a8078" stroke-width="0.9"/>
<line x1="850.3" y1="276.8" x2="825.2" y2="265.2" stroke="#8a8078" stroke-width="0.9"/>
<line x1="820.8" y1="294.4" x2="808.9" y2="296.1" stroke="#8a8078" stroke-width="0.9"/>
<line x1="815.8" y1="324.5" x2="800.8" y2="322.3" stroke="#8a8078" stroke-width="0.9"/>
<line x1="815.8" y1="338.2" x2="780" y2="327.3" stroke="#8a8078" stroke-width="0.9"/>
<g filter="url(#na)">
<text class="st" x="215.6" y="163.8">WA</text>
<text class="st" x="186.5" y="222.5">OR</text>
<text class="st" x="264.4" y="232.5">ID</text>
<text class="st" x="335.4" y="195.0">MT</text>
<text class="st" x="450.6" y="198.0">ND</text>
<text class="st" x="451.4" y="253.0">SD</text>
<text class="st" style="stroke-width:0.35px" x="528.4" y="220.6">MN</text>
<text class="st" style="stroke-width:0.35px" x="585.2" y="249.2">WI</text>
<text class="st" style="stroke-width:0.3px" x="656.5" y="251.2">MI</text>
<text class="st" x="854.8" y="189.5">ME</text>
<text class="st" x="816.2" y="218.0">VT</text>
<text class="st" style="stroke-width:0.35px" x="832.8" y="237.0">NH</text>
<text class="st" x="793.1" y="253.0">NY</text>
<text class="st" x="170.0" y="347.5">CA</text>
<text class="st" x="218.5" y="318.2">NV</text>
<text class="st" x="294.4" y="332.0">UT</text>
<text class="st" x="352.5" y="271.8">WY</text>
<text class="st" x="454.6" y="307.0">NE</text>
<text class="st" x="378.2" y="348.8">CO</text>
<text class="st" x="472.8" y="364.2">KS</text>
<text class="st" style="stroke-width:0.2px" x="540.6" y="298.0">IA</text>
<text class="st" x="601.2" y="333.0">IL</text>
<text class="st" x="642.1" y="331.8">IN</text>
<text class="st" style="stroke-width:0.2px" x="689.0" y="319.2">OH</text>
<text class="st" x="557.2" y="366.2">MO</text>
<text class="st" x="673.0" y="372.5">KY</text>
<text class="st" x="724.1" y="344.5">WV</text>
<text class="st" style="stroke-width:0.25px" x="755.8" y="296.2">PA</text>
<text class="st" x="753.4" y="363.8">VA</text>
<text class="st" x="781.0" y="320.5">MD</text>
<text class="st" style="stroke-width:0.3px" x="272.1" y="423.8">AZ</text>
<text class="st" x="361.5" y="432.5">NM</text>
<text class="st" x="496.6" y="421.2">OK</text>
<text class="st" style="stroke-width:0.12px" x="470.5" y="493.8">TX</text>
<text class="st" x="559.8" y="430.5">AR</text>
<text class="st" x="649.1" y="407.5">TN</text>
<text class="st" x="604.0" y="468.0">MS</text>
<text class="st" x="655.9" y="463.8">AL</text>
<text class="st" style="stroke-width:0.2px" x="699.4" y="460.8">GA</text>
<text class="st" x="565.6" y="490.8">LA</text>
<text class="st" x="734.4" y="432.0">SC</text>
<text class="st" style="stroke-width:0.35px" x="752.5" y="398.0">NC</text>
<text class="st" style="stroke-width:0.12px" x="744.4" y="538.0">FL</text>
<text class="st" x="194.1" y="531.8">AK</text>
<text class="so" x="870.8" y="248.0">MA</text>
<text class="so" x="877.5" y="267.5">RI</text>
<text class="so" x="860.0" y="280.0">CT</text>
<text class="so" x="830.6" y="297.5">NJ</text>
<text class="so" x="825.0" y="327.5">DE</text>
<text class="so" x="825.4" y="342.0">DC</text>
<text class="so" x="348.5" y="579.5">HI</text>
</g>
<rect x="88" y="152" width="816" height="1" fill="#959595"/>
<rect x="88" y="309" width="816" height="1" fill="#959595"/>
<rect x="88" y="466" width="816" height="1" fill="#959595"/>
<rect x="156.5" y="73" width="2" height="452" fill="#000"/>
<rect x="233.6" y="73" width="2" height="452" fill="#000"/>
<rect x="310.7" y="73" width="2" height="452" fill="#000"/>
<rect x="387.8" y="73" width="2" height="452" fill="#000"/>
<rect x="464.9" y="73" width="2" height="452" fill="#000"/>
<rect x="542.0" y="73" width="2" height="452" fill="#000"/>
<rect x="619.1" y="73" width="2" height="452" fill="#000"/>
<rect x="696.2" y="73" width="2" height="452" fill="#000"/>
<rect x="773.3" y="73" width="2" height="452" fill="#000"/>
<rect x="850.4" y="73" width="2" height="452" fill="#000"/>
<g filter="url(#na)">
<text class="hd" x="38" y="44.6">Pan</text>
<text class="hd" transform="translate(44.2,339.5) rotate(-90)">Pitch</text>
<text class="tk" x="154.8" y="46.6">-50</text>
<text class="tk" x="157.7" y="545.2">-50</text>
<text class="tk" x="231.7" y="46.6">-40</text>
<text class="tk" x="234.6" y="545.2">-40</text>
<text class="tk" x="308.6" y="46.6">-30</text>
<text class="tk" x="311.5" y="545.2">-30</text>
<text class="tk" x="385.5" y="46.6">-20</text>
<text class="tk" x="388.4" y="545.2">-20</text>
<text class="tk" x="462.4" y="46.6">-10</text>
<text class="tk" x="465.3" y="545.2">-10</text>
<text class="tk" x="539.2" y="46.6">+10</text>
<text class="tk" x="542.2" y="545.2">+10</text>
<text class="tk" x="616.2" y="46.6">+20</text>
<text class="tk" x="619.1" y="545.2">+20</text>
<text class="tk" x="693.1" y="46.6">+30</text>
<text class="tk" x="696.0" y="545.2">+30</text>
<text class="tk" x="770.0" y="46.6">+40</text>
<text class="tk" x="772.9" y="545.2">+40</text>
<text class="tk" x="846.9" y="46.6">+50</text>
<text class="tk" x="849.8" y="545.2">+50</text>
<text class="pn" x="76" y="155.3">48</text>
<text class="pn" x="76" y="168.3">47</text>
<text class="pn" x="76" y="181.3">46</text>
<text class="pn" x="76" y="194.3">45</text>
<text class="pn" x="76" y="207.3">44</text>
<text class="pn" x="76" y="220.3">43</text>
<text class="pn" x="76" y="233.3">42</text>
<text class="pn" x="76" y="246.3">41</text>
<text class="pn" x="76" y="259.3">40</text>
<text class="pn" x="76" y="272.3">39</text>
<text class="pn" x="76" y="285.3">38</text>
<text class="pn" x="76" y="298.3">37</text>
<text class="pn" x="76" y="311.3">36</text>
<text class="pn" x="76" y="324.3">35</text>
<text class="pn" x="76" y="337.3">34</text>
<text class="pn" x="76" y="350.3">33</text>
<text class="pn" x="76" y="363.3">32</text>
<text class="pn" x="76" y="376.3">31</text>
<text class="pn" x="76" y="389.3">30</text>
<text class="pn" x="76" y="402.3">29</text>
<text class="pn" x="76" y="415.3">28</text>
<text class="pn" x="76" y="428.3">27</text>
<text class="pn" x="76" y="441.3">26</text>
<text class="pn" x="76" y="454.3">25</text>
<text class="pn" x="76" y="467.3">24</text>
<text class="pn" x="76" y="480.3">23</text>
<text class="pn" x="76" y="493.3">22</text>
<text class="pn" x="76" y="506.3">21</text>
<text class="pn" x="76" y="519.3">20</text>
<text class="pn" x="76" y="532.3">19</text>
<text class="pn" x="76" y="545.3">18</text>
</g>
</svg></body></html>
